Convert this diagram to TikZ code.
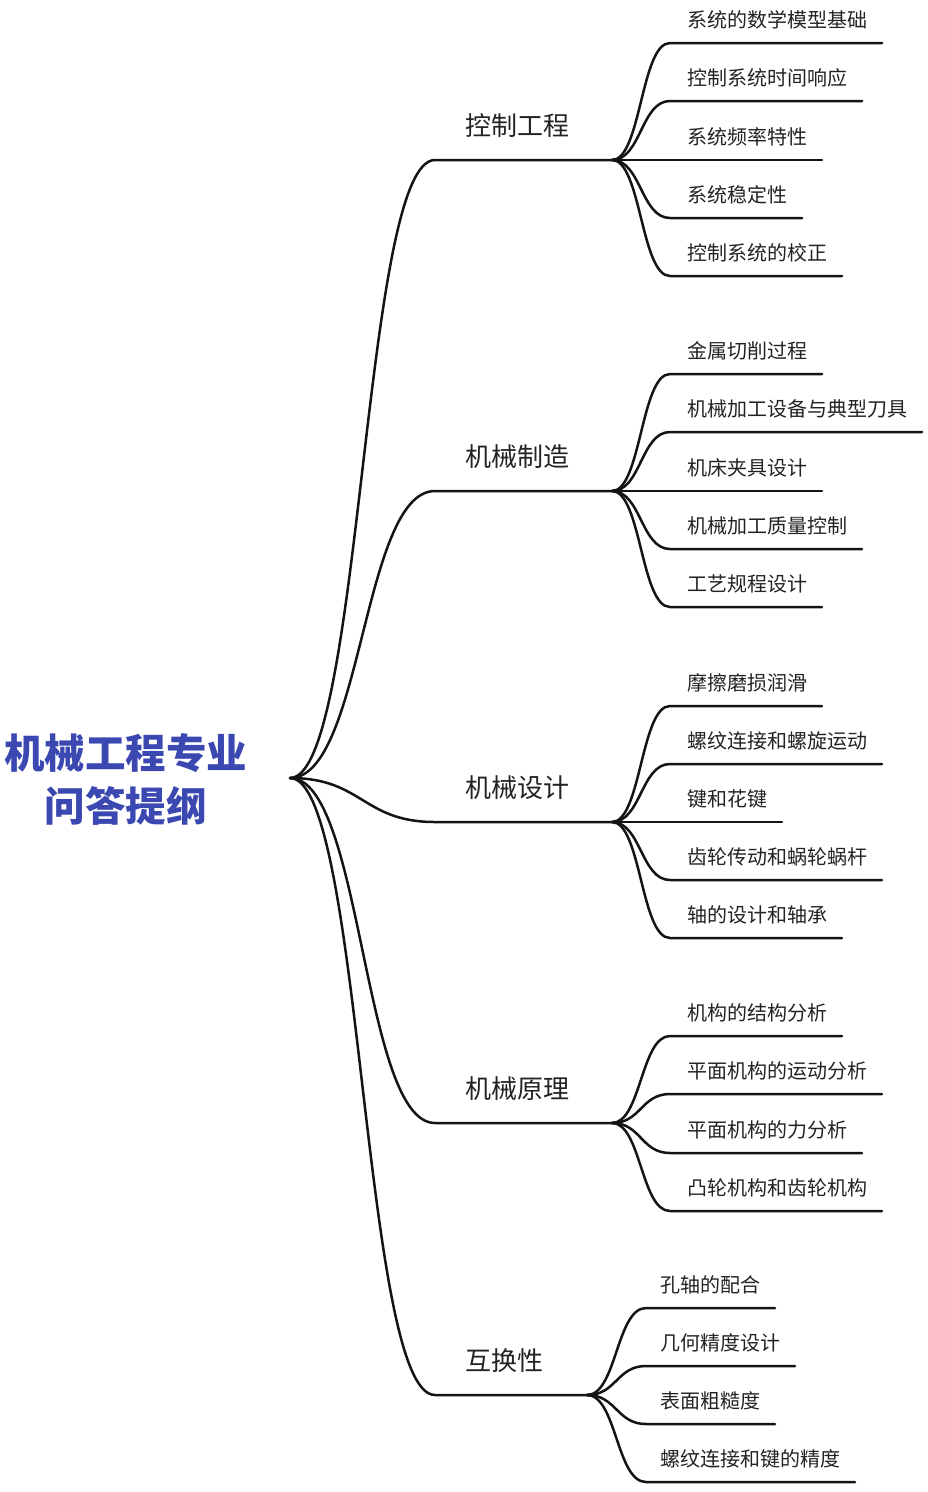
\documentclass[tikz,border=0pt]{standalone}
\usepackage{fontspec}
\setmainfont{Noto Sans CJK SC}
\usetikzlibrary{calc}
\definecolor{titleblue}{RGB}{60,72,178}
\definecolor{ink}{RGB}{20,20,20}
\definecolor{txt}{RGB}{35,35,35}
\tikzset{
  scurve/.style={to path={let \p1=(\tikztostart), \p2=(\tikztotarget) in .. controls ({0.5*\x1+0.5*\x2},\y1) and ({0.5*\x1+0.5*\x2},\y2) .. (\tikztotarget)}},
  conn/.style={draw=ink, line width=2.5pt, line cap=round},
  branchtext/.style={font=\fontsize{26}{30}\selectfont, text=txt, anchor=west, inner sep=0pt},
  leaftext/.style={font=\fontsize{20}{24}\selectfont, text=txt, anchor=west, inner sep=0pt},
  titletext/.style={font=\fontsize{40.5}{53}\selectfont\bfseries, text=titleblue, align=center, inner sep=0pt},
}
\begin{document}
\begin{tikzpicture}[x=1pt,y=-1pt]
\useasboundingbox[fill=white] (0,0) rectangle (928,1492);
\node[titletext] (root) at (126,779) {机械工程专业\\问答提纲};
\coordinate (R) at (290,778);

% branch 1
\coordinate (B1s) at (435,160); \coordinate (B1e) at (612,160);
\node[branchtext] (B1t) at (465,126) {控制工程};
\draw[conn] (R) to[scurve] (B1s) -- (B1e);
\foreach \i/\y/\w/\t in {1/43/9/系统的数学模型基础, 2/101/8/控制系统时间响应, 3/160/6/系统频率特性, 4/218/5/系统稳定性, 5/276/7/控制系统的校正}{
  \coordinate (B1l\i) at (670,\y);
  \coordinate (B1r\i) at ({687+20*\w+15},\y);
  \node[leaftext] (B1n\i) at (687,\y-23) {\t};
  \draw[conn] (B1e) to[scurve] (B1l\i) -- (B1r\i);
}

% branch 2
\coordinate (B2s) at (435,491); \coordinate (B2e) at (612,491);
\node[branchtext] (B2t) at (465,457) {机械制造};
\draw[conn] (R) to[scurve] (B2s) -- (B2e);
\foreach \i/\y/\w/\t in {1/374/6/金属切削过程, 2/432/11/机械加工设备与典型刀具, 3/491/6/机床夹具设计, 4/549/8/机械加工质量控制, 5/607/6/工艺规程设计}{
  \coordinate (B2l\i) at (670,\y);
  \coordinate (B2r\i) at ({687+20*\w+15},\y);
  \node[leaftext] (B2n\i) at (687,\y-23) {\t};
  \draw[conn] (B2e) to[scurve] (B2l\i) -- (B2r\i);
}

% branch 3
\coordinate (B3s) at (435,822); \coordinate (B3e) at (612,822);
\node[branchtext] (B3t) at (465,788) {机械设计};
\draw[conn] (R) to[scurve] (B3s) -- (B3e);
\foreach \i/\y/\w/\t in {1/706/6/摩擦磨损润滑, 2/764/9/螺纹连接和螺旋运动, 3/822/4/键和花键, 4/880/9/齿轮传动和蜗轮蜗杆, 5/938/7/轴的设计和轴承}{
  \coordinate (B3l\i) at (670,\y);
  \coordinate (B3r\i) at ({687+20*\w+15},\y);
  \node[leaftext] (B3n\i) at (687,\y-23) {\t};
  \draw[conn] (B3e) to[scurve] (B3l\i) -- (B3r\i);
}

% branch 4
\coordinate (B4s) at (435,1123); \coordinate (B4e) at (612,1123);
\node[branchtext] (B4t) at (465,1089) {机械原理};
\draw[conn] (R) to[scurve] (B4s) -- (B4e);
\foreach \i/\y/\w/\t in {1/1036/7/机构的结构分析, 2/1094/9/平面机构的运动分析, 3/1153/8/平面机构的力分析, 4/1211/9/凸轮机构和齿轮机构}{
  \coordinate (B4l\i) at (670,\y);
  \coordinate (B4r\i) at ({687+20*\w+15},\y);
  \node[leaftext] (B4n\i) at (687,\y-23) {\t};
  \draw[conn] (B4e) to[scurve] (B4l\i) -- (B4r\i);
}

% branch 5
\coordinate (B5s) at (435,1395); \coordinate (B5e) at (587,1395);
\node[branchtext] (B5t) at (465,1361) {互换性};
\draw[conn] (R) to[scurve] (B5s) -- (B5e);
\foreach \i/\y/\w/\t in {1/1308/5/孔轴的配合, 2/1366/6/几何精度设计, 3/1424/5/表面粗糙度, 4/1482/9/螺纹连接和键的精度}{
  \coordinate (B5l\i) at (646,\y);
  \coordinate (B5r\i) at ({660+20*\w+15},\y);
  \node[leaftext] (B5n\i) at (660,\y-23) {\t};
  \draw[conn] (B5e) to[scurve] (B5l\i) -- (B5r\i);
}
\end{tikzpicture}
\end{document}
